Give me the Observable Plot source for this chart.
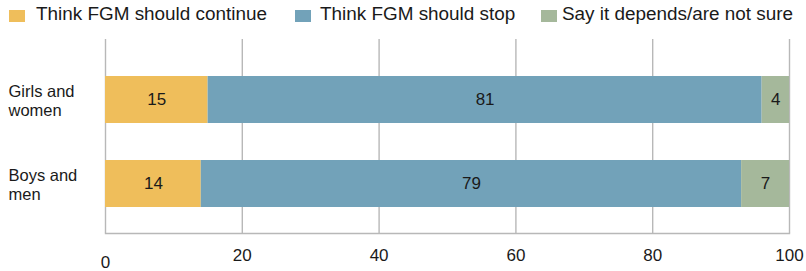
<!DOCTYPE html>
<html>
<head>
<meta charset="utf-8">
<script src="https://cdn.jsdelivr.net/npm/d3@7"></script>
<script src="https://cdn.jsdelivr.net/npm/@observablehq/plot@0.6"></script>
<style>
  html, body { margin: 0; padding: 0; background: #fff; }
  body { width: 806px; height: 271px; overflow: hidden; font-family: "Liberation Sans", Arial, sans-serif; }
  #legend { position: relative; height: 30px; }
  .sw { position: absolute; top: 10px; width: 16px; height: 12px; }
  .lt { position: absolute; top: 3px; font-size: 18.9px; color: #1a1a1a; line-height: 22px; white-space: nowrap; }
</style>
</head>
<body>
<div id="legend"></div>
<div id="chart"></div>
<script>
const groups = ["Girls and\nwomen", "Boys and\nmen"];
const categories = ["Think FGM should continue", "Think FGM should stop", "Say it depends/are not sure"];
const colors = ["#efbe5b", "#72a2b9", "#a5b89b"];
const girlsValues = [15, 81, 4];
const boysValues = [14, 79, 7];
const xTicks = [0, 20, 40, 60, 80, 100];

const seriesByGroup = [girlsValues, boysValues];
const data = [];
groups.forEach((g, gi) => categories.forEach((c, ci) => data.push({group: g, category: c, value: seriesByGroup[gi][ci]})));

// legend
const legendPos = [[9, 36], [295, 320], [541, 562]];
const legend = document.getElementById("legend");
categories.forEach((c, i) => {
  const sw = document.createElement("div");
  sw.className = "sw"; sw.style.left = legendPos[i][0] + "px"; sw.style.background = colors[i];
  const t = document.createElement("div");
  t.className = "lt"; t.style.left = legendPos[i][1] + "px"; t.textContent = c;
  legend.appendChild(sw); legend.appendChild(t);
});

const gridColor = "#b8b8b8";
const chart = Plot.plot({
  width: 806,
  height: 241,
  marginTop: 9,
  marginBottom: 38,
  marginLeft: 105,
  marginRight: 17,
  style: {fontFamily: "'Liberation Sans', Arial, sans-serif", background: "#fff", color: "#1a1a1a"},
  x: {domain: [0, 100], axis: null},
  y: {domain: groups, axis: null, paddingInner: 0.435, paddingOuter: 0.359, align: 0.59},
  color: {domain: categories, range: colors},
  marks: [
    Plot.gridX(xTicks, {stroke: gridColor, strokeOpacity: 1, strokeWidth: 1.4}),
    Plot.frame({anchor: "bottom", stroke: gridColor, strokeWidth: 1.4}),
    Plot.barX(data, {x: "value", y: "group", fill: "category", order: categories}),
    Plot.text(data, Plot.stackX({x: "value", y: "group", z: "category", order: categories, text: d => String(d.value), fontSize: 17, fill: "#1a1a1a"})),
    Plot.text(groups, {y: d => d, text: d => d, frameAnchor: "left", textAnchor: "start", dx: -97, fontSize: 16.5, lineHeight: 1.15, fill: "#1a1a1a"}),
    Plot.axisX(xTicks.slice(1), {tickSize: 0, tickPadding: 15, fontSize: 17, fill: "#1a1a1a", label: null}),
    Plot.axisX([0], {tickSize: 0, tickPadding: 22, fontSize: 17, fill: "#1a1a1a", label: null})
  ]
});
document.getElementById("chart").appendChild(chart);
</script>
</body>
</html>
